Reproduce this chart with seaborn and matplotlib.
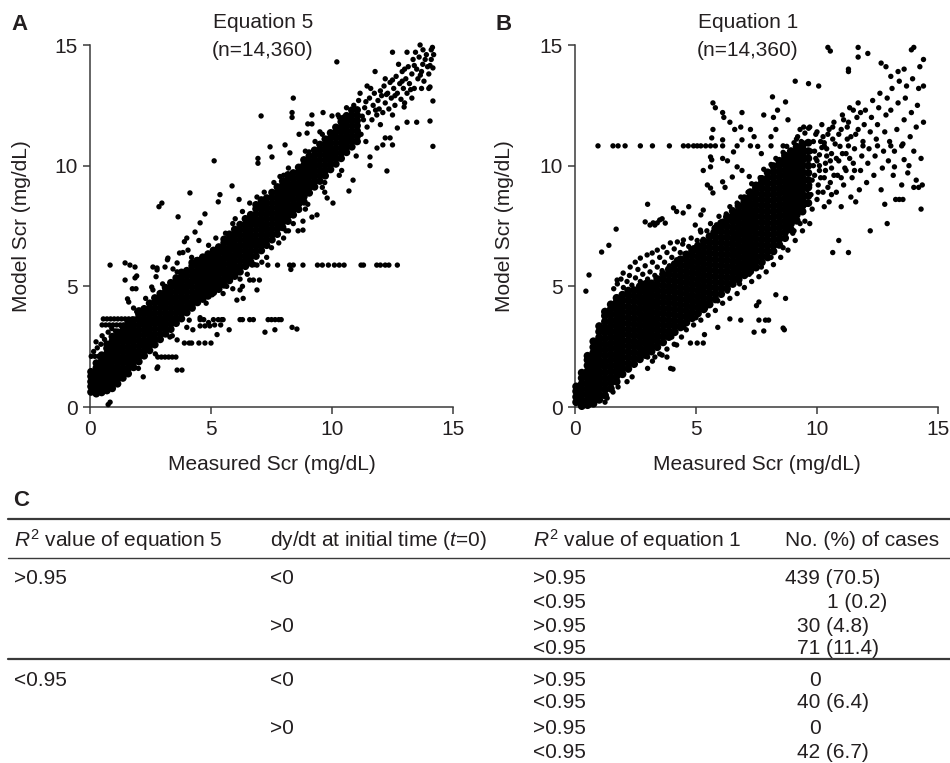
import matplotlib
matplotlib.use("Agg")
import matplotlib.pyplot as plt
import seaborn as sns
import pandas as pd
from matplotlib.lines import Line2D

# ---------------------------------------------------------------- data
# Equation 5 panel: dense band as (measured, [model values]) columns
eq5_band = [
    (0.04, [0.62, 0.85, 1.05, 1.27, 1.46]),
    (0.26, [0.55, 0.76, 0.97, 1.18, 1.4, 1.62, 1.82]),
    (0.48, [0.6, 0.83, 1.05, 1.26, 1.49, 1.7, 1.92, 2.15]),
    (0.7, [0.68, 0.9, 1.13, 1.34, 1.56, 1.78, 2.0, 2.21, 2.43, 2.6]),
    (0.92, [0.77, 0.99, 1.21, 1.43, 1.64, 1.87, 2.08, 2.3, 2.52, 2.73, 2.92]),
    (1.14, [0.96, 1.16, 1.38, 1.6, 1.82, 2.03, 2.25, 2.47, 2.69, 2.9, 3.1]),
    (1.36, [1.2, 1.42, 1.63, 1.85, 2.07, 2.29, 2.5, 2.72, 2.94, 3.15, 3.34]),
    (1.58, [1.38, 1.6, 1.82, 2.03, 2.25, 2.47, 2.69, 2.9, 3.12, 3.34, 3.52]),
    (1.8, [1.64, 1.86, 2.08, 2.29, 2.51, 2.73, 2.95, 3.16, 3.38, 3.6]),
    (2.02, [1.88, 2.1, 2.31, 2.53, 2.75, 2.97, 3.18, 3.4, 3.62, 3.84, 3.98]),
    (2.24, [2.12, 2.34, 2.56, 2.77, 2.99, 3.2, 3.42, 3.64, 3.86, 4.07]),
    (2.46, [2.34, 2.55, 2.77, 2.99, 3.21, 3.43, 3.64, 3.86, 4.08, 4.3]),
    (2.68, [2.58, 2.8, 3.01, 3.23, 3.45, 3.66, 3.88, 4.1, 4.32, 4.52]),
    (2.9, [2.8, 3.02, 3.24, 3.46, 3.67, 3.89, 4.11, 4.33, 4.54, 4.7]),
    (3.12, [3.03, 3.25, 3.47, 3.68, 3.9, 4.12, 4.34, 4.55, 4.77, 4.95]),
    (3.34, [3.22, 3.44, 3.66, 3.88, 4.1, 4.31, 4.53, 4.75, 4.97, 5.15]),
    (3.56, [3.47, 3.69, 3.91, 4.12, 4.34, 4.56, 4.78, 4.99, 5.21, 5.35]),
    (3.78, [3.66, 3.88, 4.1, 4.32, 4.53, 4.75, 4.97, 5.19, 5.4, 5.58]),
    (4.0, [3.91, 4.13, 4.35, 4.56, 4.78, 5.0, 5.22, 5.44, 5.65]),
    (4.22, [4.1, 4.32, 4.54, 4.75, 4.97, 5.19, 5.41, 5.62, 5.84, 5.98]),
    (4.44, [4.33, 4.55, 4.77, 4.98, 5.2, 5.42, 5.64, 5.85, 6.07]),
    (4.66, [4.47, 4.69, 4.9, 5.12, 5.34, 5.56, 5.78, 5.99, 6.21]),
    (4.88, [4.6, 4.82, 5.04, 5.26, 5.47, 5.69, 5.91, 6.13, 6.34]),
    (5.1, [4.75, 4.97, 5.19, 5.4, 5.62, 5.84, 6.06, 6.27, 6.49]),
    (5.32, [4.88, 5.1, 5.32, 5.54, 5.75, 5.97, 6.19, 6.41, 6.63]),
    (5.54, [5.06, 5.28, 5.5, 5.71, 5.93, 6.15, 6.37, 6.58, 6.8, 6.95]),
    (5.76, [5.24, 5.46, 5.68, 5.9, 6.11, 6.33, 6.55, 6.77, 6.98, 7.16]),
    (5.98, [5.42, 5.64, 5.85, 6.07, 6.29, 6.51, 6.72, 6.94, 7.16, 7.36]),
    (6.2, [5.6, 5.82, 6.04, 6.25, 6.47, 6.69, 6.91, 7.12, 7.34, 7.56]),
    (6.42, [5.83, 6.05, 6.26, 6.48, 6.7, 6.92, 7.13, 7.35, 7.57, 7.8]),
    (6.64, [6.01, 6.23, 6.45, 6.67, 6.88, 7.1, 7.32, 7.54, 7.75, 7.97]),
    (6.86, [6.25, 6.47, 6.69, 6.9, 7.12, 7.34, 7.56, 7.77, 7.99, 8.21, 8.38]),
    (7.08, [6.48, 6.7, 6.91, 7.13, 7.35, 7.57, 7.78, 8.0, 8.22, 8.44, 8.58]),
    (7.3, [6.7, 6.92, 7.13, 7.35, 7.57, 7.79, 8.0, 8.22, 8.44, 8.66]),
    (7.52, [6.93, 7.15, 7.37, 7.58, 7.8, 8.02, 8.24, 8.45, 8.67, 8.89]),
    (7.74, [7.16, 7.38, 7.6, 7.81, 8.03, 8.25, 8.47, 8.68, 8.9, 9.12]),
    (7.96, [7.44, 7.66, 7.88, 8.09, 8.31, 8.53, 8.75, 8.96, 9.18, 9.36]),
    (8.18, [7.7, 7.92, 8.14, 8.35, 8.57, 8.79, 9.01, 9.22, 9.44, 9.62]),
    (8.4, [7.96, 8.18, 8.39, 8.61, 8.83, 9.05, 9.26, 9.48, 9.7]),
    (8.62, [8.19, 8.41, 8.63, 8.85, 9.06, 9.28, 9.5, 9.72, 9.93]),
    (8.84, [8.5, 8.72, 8.93, 9.15, 9.37, 9.59, 9.8, 10.02, 10.24]),
    (9.06, [8.87, 9.09, 9.31, 9.53, 9.74, 9.96, 10.18, 10.4]),
    (9.28, [9.12, 9.34, 9.56, 9.77, 9.99, 10.21, 10.43, 10.64]),
    (9.5, [9.36, 9.58, 9.79, 10.01, 10.23, 10.45, 10.66, 10.88]),
    (9.72, [9.58, 9.8, 10.02, 10.24, 10.45, 10.67, 10.89, 11.1]),
    (9.94, [9.84, 10.06, 10.28, 10.49, 10.71, 10.93, 11.15, 11.36]),
    (10.16, [10.07, 10.29, 10.51, 10.72, 10.94, 11.16, 11.38, 11.59]),
    (10.38, [10.3, 10.52, 10.73, 10.95, 11.17, 11.39, 11.6, 11.82]),
    (10.6, [10.55, 10.77, 10.98, 11.2, 11.42, 11.64, 11.85, 12.07]),
    (10.82, [10.78, 11.0, 11.22, 11.43, 11.65, 11.87, 12.09, 12.3]),
    (11.04, [11.0, 11.22, 11.44, 11.66, 11.87, 12.09, 12.31]),
]

# Equation 5 panel: thinner cloud at the top of the range
eq5_tail = [
    (11.2, 11.3), (11.3, 11.9), (11.35, 12.4), (11.45, 11.6), (11.5, 12.2),
    (11.55, 12.8), (11.65, 11.9), (11.7, 12.5), (11.75, 13.0), (11.85, 12.1),
    (11.9, 12.7), (11.95, 12.35), (12.05, 12.9), (12.1, 12.2), (12.15, 13.3),
    (12.2, 12.6), (12.3, 13.0), (12.35, 12.35), (12.4, 13.45), (12.45, 12.8),
    (12.55, 13.2), (12.6, 12.5), (12.65, 13.7), (12.7, 13.0), (12.8, 13.4),
    (12.85, 12.75), (12.9, 13.9), (12.95, 13.2), (13.05, 13.6), (13.1, 13.0),
    (13.15, 14.1), (13.2, 13.4), (13.3, 13.8), (13.35, 14.4), (13.4, 13.2),
    (13.5, 14.0), (13.55, 13.6), (13.6, 14.5), (13.7, 13.9), (13.75, 14.2),
    (13.8, 13.5), (13.9, 14.6), (13.95, 14.1), (14.0, 13.8), (14.1, 14.4),
    (14.15, 14.9), (14.2, 14.6), (13.45, 14.7), (12.75, 14.2), (12.2, 13.6),
    (11.6, 13.2), (11.1, 12.7), (10.9, 12.5), (11.4, 11.0), (12.0, 11.7),
    (12.5, 12.1), (13.0, 12.6), (13.3, 12.8), (14.0, 13.2),
    (11.25, 12.05), (11.4, 12.65), (11.8, 12.3), (12.0, 13.1), (12.25, 12.95),
    (12.5, 13.55), (12.6, 12.9), (12.9, 13.5), (13.0, 14.0), (13.25, 13.15),
    (13.4, 14.15), (13.65, 13.75), (13.85, 14.4), (14.05, 14.15),
]

# Equation 5 panel: points above the band
eq5_above = [
    (10.2, 14.3), (8.4, 12.8), (8.35, 12.2), (8.35, 12.0), (7.07, 12.06),
    (9.17, 12.1), (9.63, 12.2), (5.13, 10.2), (4.13, 8.87), (2.97, 8.45),
    (2.85, 8.3), (3.64, 7.88), (5.37, 8.8), (5.3, 8.5), (5.87, 9.16),
    (4.75, 8.0), (4.55, 7.63), (4.34, 7.25), (4.0, 7.0), (6.16, 8.6),
    (6.94, 10.3), (6.94, 10.1), (7.44, 10.78), (8.06, 10.86), (7.52, 10.36),
    (8.26, 10.53), (9.05, 10.57), (8.64, 11.3), (8.97, 11.35), (9.0, 11.73),
    (9.17, 11.73), (9.5, 11.4), (10.0, 12.06), (10.25, 12.1), (10.45, 12.0),
    (10.6, 12.4), (11.16, 13.0), (11.45, 13.3), (11.78, 13.9), (12.5, 14.7),
    (13.1, 14.7), (13.64, 15.0), (14.1, 14.8), (13.76, 14.8),
    (0.83, 5.88), (1.45, 5.97), (1.65, 5.88), (1.86, 5.8), (1.93, 5.43),
    (1.86, 5.35), (1.45, 5.26), (1.75, 4.9), (1.9, 4.9), (1.6, 4.35),
    (1.55, 4.48), (1.8, 4.1), (1.93, 3.95), (2.6, 5.8), (2.77, 5.68),
    (2.73, 5.4), (3.2, 6.1), (3.1, 5.8), (3.22, 6.17), (2.55, 4.97),
    (2.6, 4.85), (3.7, 6.38), (3.6, 5.97), (3.43, 5.72), (4.05, 6.5),
    (3.9, 6.85), (4.5, 6.9), (4.4, 6.1), (3.84, 6.4), (2.77, 5.76),
    (0.15, 2.3), (0.3, 2.45), (0.45, 2.6), (0.25, 2.7), (0.6, 2.8),
    (0.5, 2.95), (0.75, 3.1), (0.9, 3.25), (1.05, 3.15),
    (2.3, 4.5), (3.0, 5.1), (3.6, 5.6), (4.2, 6.2), (4.9, 6.7), (5.6, 7.2),
    (6.3, 8.1), (6.9, 8.7), (7.6, 9.3), (8.2, 9.9), (8.9, 10.6), (9.6, 11.3),
    (10.3, 12.0), (5.2, 7.0), (6.0, 7.8), (7.2, 8.9), (8.0, 9.6),
    (6.6, 8.45), (7.85, 9.55), (9.3, 11.0), (5.9, 7.6),
]

# Equation 5 panel: points below the band
eq5_below = [
    (14.17, 10.8), (14.05, 11.85), (13.5, 11.8), (13.1, 11.8), (14.17, 12.68),
    (14.17, 14.05), (13.7, 13.2), (14.05, 13.26), (12.98, 12.43), (12.7, 11.56),
    (12.2, 11.15), (12.4, 11.15), (12.27, 9.78), (11.57, 10.0), (11.57, 10.36),
    (11.86, 10.73), (12.1, 10.86), (12.5, 10.86), (10.7, 8.95), (10.87, 9.4),
    (10.04, 8.45), (9.8, 8.66), (9.7, 8.9), (9.17, 7.87), (9.38, 7.96),
    (8.8, 7.33), (8.6, 7.3), (8.1, 7.3), (8.8, 7.7),
    (2.77, 1.6), (3.6, 1.53), (3.8, 1.53), (2.8, 1.66), (2.2, 1.25),
    (0.83, 0.2), (0.75, 0.1),
    (5.8, 5.26), (6.07, 4.43), (6.33, 4.5), (6.6, 5.26), (6.75, 5.26),
    (7.0, 5.26), (6.9, 4.85), (6.2, 4.85), (6.3, 5.0), (5.4, 5.1),
    (5.65, 5.0), (4.75, 4.7), (5.05, 4.65), (4.55, 3.7), (4.9, 3.5),
    (5.15, 3.4), (4.25, 4.2), (4.0, 3.3), (4.25, 3.2), (3.3, 2.9),
    (3.6, 2.78), (4.1, 2.65), (8.3, 5.7),
    (2.0, 1.6), (2.7, 2.2), (3.4, 2.95), (4.1, 3.6), (4.8, 4.3), (5.5, 4.7),
    (6.2, 5.3), (6.8, 5.9), (7.5, 6.6), (8.2, 7.3), (8.9, 8.2), (9.6, 9.1),
    (10.4, 9.8), (11.0, 10.4), (5.9, 4.9), (6.5, 5.5), (7.1, 6.0), (7.8, 6.8),
    (8.4, 7.6), (9.0, 8.4), (9.7, 9.3), (10.3, 9.6), (7.3, 6.2), (8.0, 7.0),
]

# Equation 5 panel: runs of cases that share one model value
eq5_runs = [
    (6.5, 5.88), (6.7, 5.88), (6.9, 5.88), (7.35, 5.88), (7.75, 5.88),
    (8.25, 5.88), (8.4, 5.88), (8.8, 5.88), (9.4, 5.88), (9.6, 5.88),
    (9.85, 5.88), (10.1, 5.88), (10.3, 5.88), (10.5, 5.88), (11.2, 5.88),
    (11.3, 5.88), (11.85, 5.88), (12.0, 5.88), (12.2, 5.88), (12.35, 5.88),
    (12.7, 5.88),
    (4.55, 3.62), (4.7, 3.62), (5.1, 3.62), (5.3, 3.62), (5.45, 3.62),
    (5.5, 3.62), (6.2, 3.62), (6.3, 3.62), (6.6, 3.62), (6.75, 3.62),
    (7.36, 3.62), (7.5, 3.62), (7.65, 3.62), (7.8, 3.62), (7.9, 3.62),
    (7.23, 3.1), (7.64, 3.2), (8.35, 3.3), (8.55, 3.23), (5.4, 3.4),
    (5.75, 3.2), (4.55, 3.36), (4.75, 3.36), (4.95, 3.36), (5.25, 3.0),
    (3.9, 2.65), (4.2, 2.65), (4.5, 2.65), (4.75, 2.65), (5.0, 2.65),
    (2.8, 2.07), (2.95, 2.07), (3.1, 2.07), (3.25, 2.07), (3.4, 2.07),
    (3.55, 2.07),
    (0.55, 3.65), (0.7, 3.65), (0.85, 3.65), (1.0, 3.65), (1.15, 3.65),
    (1.3, 3.65), (1.45, 3.65), (1.6, 3.65), (1.75, 3.65), (1.9, 3.65),
    (2.1, 3.65), (2.3, 3.65),
    (0.5, 3.4), (0.65, 3.4), (0.8, 3.4), (0.95, 3.4), (1.1, 3.4),
    (1.25, 3.4), (1.4, 3.4), (1.6, 3.4), (1.8, 3.4), (2.0, 3.4),
    (2.2, 3.4), (2.45, 3.4),
    (0.05, 2.1), (0.2, 2.1), (0.35, 2.1), (0.5, 2.1), (0.7, 2.1), (0.85, 2.1),
]

# Equation 1 panel: dense band as (measured, [model values]) columns
eq1_band = [
    (0.05, [0.2, 0.42, 0.65, 0.85]),
    (0.28, [0.04, 0.27, 0.5, 0.73, 0.96, 1.2, 1.42]),
    (0.52, [0.08, 0.31, 0.55, 0.78, 1.02, 1.25, 1.48, 1.72, 1.95, 2.12]),
    (0.76, [0.14, 0.38, 0.61, 0.85, 1.08, 1.31, 1.55, 1.78, 2.02, 2.25, 2.48, 2.72]),
    (1.0, [0.3, 0.53, 0.77, 1.0, 1.24, 1.47, 1.71, 1.94, 2.18, 2.41, 2.65, 2.88, 3.12, 3.35]),
    (1.24, [0.48, 0.72, 0.95, 1.19, 1.42, 1.66, 1.89, 2.13, 2.36, 2.6, 2.83, 3.07, 3.3, 3.54, 3.78, 3.95]),
    (1.48, [0.76, 1.0, 1.23, 1.47, 1.7, 1.94, 2.17, 2.41, 2.64, 2.88, 3.11, 3.35, 3.58, 3.82, 4.05, 4.25]),
    (1.72, [1.05, 1.28, 1.52, 1.75, 1.99, 2.22, 2.46, 2.69, 2.93, 3.16, 3.4, 3.63, 3.87, 4.1, 4.34, 4.52]),
    (1.96, [1.36, 1.6, 1.83, 2.07, 2.3, 2.54, 2.77, 3.01, 3.24, 3.48, 3.71, 3.95, 4.18, 4.42, 4.65]),
    (2.2, [1.58, 1.81, 2.05, 2.28, 2.52, 2.75, 2.99, 3.22, 3.46, 3.69, 3.93, 4.16, 4.4, 4.63, 4.82]),
    (2.44, [1.78, 2.02, 2.25, 2.49, 2.72, 2.96, 3.19, 3.43, 3.66, 3.9, 4.13, 4.37, 4.6, 4.84]),
    (2.68, [1.98, 2.21, 2.45, 2.68, 2.92, 3.15, 3.39, 3.62, 3.86, 4.09, 4.33, 4.56, 4.8, 5.0]),
    (2.92, [2.15, 2.38, 2.62, 2.85, 3.09, 3.32, 3.56, 3.79, 4.03, 4.26, 4.5, 4.73, 4.97, 5.1]),
    (3.16, [2.3, 2.54, 2.77, 3.01, 3.24, 3.48, 3.71, 3.95, 4.18, 4.42, 4.65, 4.89, 5.12]),
    (3.4, [2.48, 2.72, 2.95, 3.19, 3.42, 3.66, 3.89, 4.13, 4.36, 4.6, 4.83, 5.07, 5.3]),
    (3.64, [2.68, 2.92, 3.15, 3.39, 3.62, 3.86, 4.09, 4.33, 4.56, 4.8, 5.03, 5.27, 5.5]),
    (3.88, [2.9, 3.13, 3.37, 3.6, 3.84, 4.07, 4.31, 4.54, 4.78, 5.01, 5.25, 5.48, 5.7]),
    (4.12, [3.1, 3.34, 3.57, 3.81, 4.04, 4.28, 4.51, 4.75, 4.98, 5.22, 5.45, 5.69, 5.92]),
    (4.36, [3.3, 3.54, 3.77, 4.01, 4.24, 4.48, 4.71, 4.95, 5.18, 5.42, 5.65, 5.89, 6.12]),
    (4.6, [3.5, 3.74, 3.97, 4.21, 4.44, 4.68, 4.91, 5.15, 5.38, 5.62, 5.85, 6.09, 6.32]),
    (4.84, [3.68, 3.92, 4.15, 4.39, 4.62, 4.86, 5.09, 5.33, 5.56, 5.8, 6.03, 6.27, 6.5]),
    (5.08, [3.88, 4.12, 4.35, 4.59, 4.82, 5.06, 5.29, 5.53, 5.76, 6.0, 6.23, 6.47, 6.68]),
    (5.32, [4.05, 4.29, 4.52, 4.76, 4.99, 5.23, 5.46, 5.7, 5.93, 6.17, 6.4, 6.64, 6.87]),
    (5.56, [4.25, 4.49, 4.72, 4.96, 5.19, 5.43, 5.66, 5.9, 6.13, 6.37, 6.6, 6.84, 7.07]),
    (5.8, [4.46, 4.7, 4.93, 5.17, 5.4, 5.64, 5.87, 6.11, 6.34, 6.58, 6.81, 7.05, 7.28, 7.4]),
    (6.04, [4.68, 4.92, 5.15, 5.39, 5.62, 5.86, 6.09, 6.33, 6.56, 6.8, 7.03, 7.27, 7.5, 7.62]),
    (6.28, [4.9, 5.14, 5.37, 5.61, 5.84, 6.08, 6.31, 6.55, 6.78, 7.02, 7.25, 7.49, 7.72, 7.88]),
    (6.52, [5.1, 5.34, 5.57, 5.81, 6.04, 6.28, 6.51, 6.75, 6.98, 7.22, 7.45, 7.69, 7.92, 8.12]),
    (6.76, [5.28, 5.52, 5.75, 5.99, 6.22, 6.46, 6.69, 6.93, 7.16, 7.4, 7.63, 7.87, 8.1, 8.34]),
    (7.0, [5.46, 5.7, 5.93, 6.17, 6.4, 6.64, 6.87, 7.11, 7.34, 7.58, 7.81, 8.05, 8.28, 8.52, 8.65]),
    (7.24, [5.62, 5.86, 6.09, 6.33, 6.56, 6.8, 7.03, 7.27, 7.5, 7.74, 7.97, 8.21, 8.44, 8.68, 8.9]),
    (7.48, [5.78, 6.02, 6.25, 6.49, 6.72, 6.96, 7.19, 7.43, 7.66, 7.9, 8.13, 8.37, 8.6, 8.84, 9.07, 9.18]),
    (7.72, [6.0, 6.24, 6.47, 6.71, 6.94, 7.18, 7.41, 7.65, 7.88, 8.12, 8.35, 8.59, 8.82, 9.06, 9.29, 9.45]),
    (7.96, [6.2, 6.44, 6.67, 6.91, 7.14, 7.38, 7.61, 7.85, 8.08, 8.32, 8.55, 8.79, 9.02, 9.26, 9.49, 9.72]),
    (8.2, [6.45, 6.69, 6.92, 7.16, 7.39, 7.63, 7.86, 8.1, 8.33, 8.57, 8.8, 9.04, 9.27, 9.51, 9.74, 9.98]),
    (8.44, [6.72, 6.96, 7.19, 7.43, 7.66, 7.9, 8.13, 8.37, 8.6, 8.84, 9.07, 9.31, 9.54, 9.78, 10.01, 10.2]),
    (8.68, [7.0, 7.24, 7.47, 7.71, 7.94, 8.18, 8.41, 8.65, 8.88, 9.12, 9.35, 9.59, 9.82, 10.06, 10.29, 10.42]),
    (8.92, [7.35, 7.59, 7.82, 8.06, 8.29, 8.53, 8.76, 9.0, 9.23, 9.47, 9.7, 9.94, 10.17, 10.41, 10.6]),
    (9.16, [7.72, 7.96, 8.19, 8.43, 8.66, 8.9, 9.13, 9.37, 9.6, 9.84, 10.07, 10.31, 10.54, 10.78]),
    (9.4, [8.1, 8.34, 8.57, 8.81, 9.04, 9.28, 9.51, 9.75, 9.98, 10.22, 10.45, 10.69, 10.9]),
    (9.64, [8.45, 8.75, 9.1, 9.4, 9.7, 10.0, 10.3, 10.6, 10.95]),
]

# Equation 1 panel: looser points around the band
eq1_halo = [
    (1.6, 4.9), (1.75, 5.1), (1.9, 5.3), (2.0, 4.95), (2.15, 5.2), (2.25, 5.45),
    (2.35, 5.05), (2.5, 5.35), (2.6, 5.7), (2.7, 5.2), (2.8, 5.5), (2.9, 5.85),
    (3.0, 5.3), (3.1, 5.6), (3.2, 6.0), (3.3, 5.45), (3.4, 5.8), (3.5, 6.2),
    (3.6, 5.65), (3.7, 6.0), (3.8, 6.4), (3.9, 5.85), (4.0, 6.2), (4.1, 6.55),
    (4.2, 6.1), (4.35, 6.4), (4.45, 6.75), (4.55, 6.35), (4.7, 6.65), (4.8, 7.0),
    (4.9, 6.6), (5.05, 6.9), (5.2, 7.25), (5.3, 6.95), (5.45, 7.3), (5.6, 7.6),
    (5.7, 7.25), (5.85, 7.55), (5.95, 7.9), (6.1, 7.7), (6.25, 8.0), (6.4, 8.3),
    (6.55, 8.05), (6.7, 8.45), (6.85, 8.7), (7.0, 8.6), (7.15, 8.9), (7.3, 9.25),
    (7.5, 9.2), (7.65, 9.5), (7.8, 9.85), (7.95, 9.7), (8.1, 10.05), (8.3, 10.3),
    (8.45, 10.2), (8.6, 10.55), (8.75, 10.8), (8.9, 10.6), (9.05, 10.95),
    (9.2, 11.2), (9.35, 11.0), (9.5, 11.35), (9.65, 11.55),
    (1.74, 5.26), (1.99, 5.55), (2.28, 5.8), (2.49, 6.0), (2.7, 6.17),
    (2.98, 6.3), (3.19, 6.38), (3.4, 6.5), (3.65, 6.63), (3.94, 6.8),
    (4.23, 6.84), (4.48, 6.92), (3.1, 7.54), (3.3, 7.54), (3.5, 7.75),
    (3.73, 7.62), (4.97, 7.54), (5.18, 7.33),
    (3.2, 1.9), (3.5, 2.2), (3.8, 2.4), (4.1, 2.6), (4.4, 2.9), (4.6, 3.2),
    (4.9, 3.4), (5.2, 3.6), (5.5, 3.8), (5.8, 4.0), (6.1, 4.3), (6.4, 4.5),
    (6.7, 4.7), (7.0, 4.95), (7.3, 5.2), (7.6, 5.4), (7.9, 5.6), (8.2, 5.9),
    (8.5, 6.2), (8.8, 6.5), (9.1, 6.9), (9.4, 7.3), (9.7, 7.6),
    (4.0, 2.9), (4.5, 3.3), (5.0, 3.7), (5.4, 4.1), (5.9, 4.4), (6.3, 4.8),
    (6.8, 5.1), (7.2, 5.5), (7.7, 5.8), (8.1, 6.2), (8.6, 6.6), (9.0, 7.2),
    (9.5, 7.7),
]

# Equation 1 panel: thinner cloud above 9.5 mg/dL
eq1_tail = [
    (9.55, 8.4), (9.6, 9.0), (9.6, 9.7), (9.65, 10.3), (9.7, 11.6), (9.75, 8.8),
    (9.8, 9.4), (9.85, 10.0), (9.9, 10.6), (9.95, 11.3), (10.0, 8.6), (10.05, 9.2),
    (10.1, 9.8), (10.1, 10.45), (10.15, 11.0), (10.2, 11.7), (10.25, 8.9),
    (10.3, 9.5), (10.35, 10.1), (10.4, 10.7), (10.45, 11.3), (10.5, 8.5),
    (10.55, 9.3), (10.6, 9.9), (10.6, 10.5), (10.65, 11.1), (10.7, 11.8),
    (9.58, 10.0), (10.0, 10.2), (10.3, 10.95),
    (9.7, 9.2), (9.75, 10.6), (9.8, 8.2), (9.85, 11.0), (9.9, 9.6), (9.95, 10.3),
    (10.0, 11.4), (10.05, 8.9), (10.1, 10.0), (10.15, 9.5), (10.2, 10.75),
    (10.25, 11.2), (10.3, 8.3), (10.35, 9.8), (10.4, 10.4), (10.45, 9.1),
    (10.5, 11.5), (10.55, 10.2), (10.6, 8.8), (10.65, 11.6), (10.7, 9.6),
    (10.75, 10.9), (10.8, 10.3), (10.9, 11.3), (11.0, 9.5), (11.05, 10.5),
    (11.1, 11.9), (11.2, 9.8), (11.25, 11.6), (11.35, 10.3), (11.4, 11.2),
    (11.5, 12.3), (11.55, 9.8), (11.7, 11.5), (11.8, 12.2), (9.45, 11.6),
    (9.3, 11.5), (9.15, 11.1), (9.05, 7.3), (9.3, 7.6),
    (10.8, 8.9), (10.85, 9.6), (10.9, 10.2), (10.95, 10.8), (11.0, 11.5),
    (11.05, 12.1), (11.1, 9.2), (11.15, 9.9), (11.2, 10.5), (11.25, 11.1),
    (11.3, 11.8), (11.35, 12.4), (11.4, 8.7), (11.45, 9.5), (11.5, 10.1),
    (11.55, 10.7), (11.6, 11.3), (11.65, 12.0), (11.7, 12.6), (11.75, 9.0),
    (11.8, 9.8), (11.85, 10.4), (11.9, 11.0), (11.95, 11.7), (12.0, 12.3),
    (11.0, 8.3), (11.6, 8.5),
    (12.05, 9.3), (12.1, 10.1), (12.15, 10.7), (12.2, 11.4), (12.25, 12.0),
    (12.3, 12.7), (12.35, 9.6), (12.4, 10.4), (12.45, 11.1), (12.5, 11.7),
    (12.55, 12.4), (12.6, 13.0), (12.65, 9.0), (12.7, 9.9), (12.75, 10.6),
    (12.8, 11.4), (12.85, 12.1), (12.9, 12.8), (12.95, 10.2), (13.0, 11.0),
    (13.05, 12.3), (13.1, 13.2), (13.15, 9.6), (13.2, 10.6), (13.3, 11.5),
    (13.35, 12.6), (13.4, 13.5), (13.5, 9.2), (13.55, 10.9), (13.6, 11.9),
    (13.65, 12.8), (13.7, 13.3), (13.8, 10.0), (13.85, 11.2), (13.9, 12.2),
    (13.95, 13.6), (14.0, 10.6), (14.1, 11.6), (14.15, 12.5), (14.2, 13.2),
    (14.3, 10.3), (14.35, 9.2), (14.25, 14.1),
]

# Equation 1 panel: scattered points away from the band
eq1_scatter = [
    (3.0, 8.4), (2.9, 7.67), (3.23, 7.63), (3.4, 7.63), (3.6, 7.8), (4.07, 8.25),
    (4.2, 8.1), (4.47, 8.04), (4.7, 8.3), (1.7, 7.37), (1.4, 6.7), (1.1, 6.42),
    (0.58, 5.47), (0.45, 4.8),
    (5.7, 12.6), (5.8, 12.4), (6.1, 12.2), (6.15, 12.0), (6.9, 12.2), (6.4, 11.8),
    (6.6, 11.5), (6.85, 11.6), (5.7, 11.5), (5.65, 11.15), (6.1, 11.07),
    (5.6, 10.36), (5.65, 10.24), (6.1, 10.3), (6.3, 10.2), (6.7, 9.95), (6.9, 9.8),
    (7.2, 9.55), (5.47, 9.2), (5.6, 9.07), (5.7, 8.87), (6.1, 9.33), (6.2, 9.1),
    (6.5, 9.53), (5.3, 8.16), (5.2, 7.96), (7.4, 11.2), (7.55, 10.8), (7.7, 10.5),
    (8.1, 11.2), (8.3, 11.5), (8.2, 12.0), (8.37, 12.3), (8.7, 12.64),
    (8.16, 12.85), (7.8, 12.1), (8.8, 11.9), (7.25, 11.5), (6.9, 11.07),
    (5.3, 9.8), (5.6, 9.95), (6.55, 10.57),
    (9.1, 13.5), (9.65, 13.4), (10.07, 13.3), (10.45, 14.9), (10.55, 14.75),
    (11.7, 14.9), (11.7, 14.5), (12.1, 14.65), (11.3, 14.0), (11.3, 13.9),
    (12.65, 14.25), (12.85, 14.1), (13.05, 13.7), (13.35, 13.9), (13.6, 14.0),
    (13.9, 14.8), (14.0, 14.9), (14.4, 14.4), (14.4, 13.3), (14.4, 11.8),
    (14.3, 8.2), (14.0, 9.1), (14.2, 9.1), (14.1, 9.4), (12.9, 7.6), (12.2, 7.3),
    (11.3, 6.4), (10.9, 6.9), (10.65, 6.4), (13.55, 8.6), (13.4, 8.6),
    (13.25, 8.6), (12.8, 8.4), (13.75, 9.7), (13.6, 10.25), (13.2, 9.95),
    (8.7, 4.5), (8.3, 4.65), (7.6, 4.35), (7.5, 4.2), (7.87, 3.6), (7.6, 3.6),
    (8.0, 3.6), (7.4, 3.1), (7.8, 3.15), (8.6, 3.27), (8.65, 3.2), (6.85, 3.6),
    (6.4, 3.65), (5.9, 3.3), (5.35, 3.0), (4.77, 2.65), (5.05, 2.65),
    (5.3, 2.65), (4.2, 2.57), (3.6, 2.15), (3.8, 2.07), (3.3, 2.07),
    (3.0, 2.07), (3.95, 1.6), (4.05, 1.57), (3.0, 1.6), (2.36, 1.25),
    (2.15, 1.05), (1.78, 0.83), (1.57, 0.62), (1.33, 0.37), (1.24, 0.2),
]

# Equation 1 panel: run of cases sharing one model value
eq1_run = [
    (0.95, 10.82), (1.57, 10.82), (1.78, 10.82), (2.07, 10.82), (2.7, 10.82),
    (3.2, 10.82), (3.9, 10.82), (4.48, 10.82), (4.68, 10.82), (4.9, 10.82),
    (5.05, 10.82), (5.2, 10.82), (5.4, 10.82), (5.6, 10.82), (5.8, 10.82),
    (6.1, 10.82), (6.7, 10.82), (7.25, 10.82), (8.1, 10.82), (8.6, 10.82),
    (9.45, 10.82), (10.3, 10.82), (11.3, 10.82), (11.9, 10.82), (12.5, 10.82),
    (13.05, 10.82), (13.5, 10.82),
]

panel_titles = ["Equation 5", "Equation 1"]
panel_n = ["(n=14,360)", "(n=14,360)"]
panel_letters = ["A", "B"]
axis_ticks = [0, 5, 10, 15]

# Table C
table_header = [r"$R^2$ value of equation 5", r"dy/dt at initial time ($t$=0)",
                r"$R^2$ value of equation 1", "No. (%) of cases"]
eq5_r2 = [">0.95", "", "", "", "<0.95", "", "", ""]
slope_t0 = ["<0", "", ">0", "", "<0", "", ">0", ""]
eq1_r2 = [">0.95", "<0.95", ">0.95", "<0.95", ">0.95", "<0.95", ">0.95", "<0.95"]
case_counts = ["439 (70.5)", "1 (0.2)", "30 (4.8)", "71 (11.4)",
               "0", "40 (6.4)", "0", "42 (6.7)"]


# ---------------------------------------------------------------- helpers
def columns_to_xy(columns):
    xs, ys = [], []
    for x, col in columns:
        for y in col:
            xs.append(x)
            ys.append(y)
    return xs, ys


def pairs_to_xy(*groups):
    xs, ys = [], []
    for group in groups:
        for x, y in group:
            xs.append(x)
            ys.append(y)
    return xs, ys


def frame(xs, ys, panel, layer):
    return pd.DataFrame({"measured": xs, "model": ys,
                         "panel": panel, "layer": layer})


points = pd.concat([
    frame(*columns_to_xy(eq5_band), "Equation 5", "core"),
    frame(*pairs_to_xy(eq5_tail, eq5_above, eq5_below, eq5_runs),
          "Equation 5", "spread"),
    frame(*columns_to_xy(eq1_band), "Equation 1", "core"),
    frame(*pairs_to_xy(eq1_halo, eq1_tail, eq1_scatter, eq1_run),
          "Equation 1", "spread"),
], ignore_index=True)

# ---------------------------------------------------------------- style
sns.set_theme(style="ticks")
plt.rcParams["font.family"] = ["Liberation Sans", "DejaVu Sans"]
plt.rcParams["mathtext.fontset"] = "custom"
plt.rcParams["mathtext.rm"] = "Liberation Sans"
plt.rcParams["mathtext.it"] = "Liberation Sans:italic"
TXT = "#231f20"
AXC = "#3a3a3a"
FS = 15

W, H = 950, 763
fig = plt.figure(figsize=(W / 100, H / 100), dpi=100)


def fx(px):
    return px / W


def fy(py):
    return 1 - py / H


ax_left = [90, 575]
ax_w, top_px, bot_px = 363, 45, 407
core_size = [30, 33]   # overlapping markers in the crowded band

for i, panel in enumerate(panel_titles):
    l = ax_left[i]
    ax = fig.add_axes([fx(l), fy(bot_px), ax_w / W, (bot_px - top_px) / H])
    sub = points[points["panel"] == panel]
    core = sub[sub["layer"] == "core"]
    spread = sub[sub["layer"] == "spread"]
    sns.scatterplot(data=core, x="measured", y="model", ax=ax,
                    s=core_size[i], color="black", edgecolor="none",
                    linewidth=0, clip_on=False, legend=False)
    sns.scatterplot(data=spread, x="measured", y="model", ax=ax, s=15,
                    color="black", edgecolor="none", linewidth=0,
                    clip_on=False, legend=False)
    ax.set_xlim(0, 15)
    ax.set_ylim(0, 15)
    ax.set_xticks(axis_ticks)
    ax.set_yticks(axis_ticks)
    sns.despine(ax=ax)
    for s in ("left", "bottom"):
        ax.spines[s].set_color(AXC)
        ax.spines[s].set_linewidth(1.1)
        ax.spines[s].set_zorder(0.5)
    ax.tick_params(direction="out", length=5, width=1.1, color=AXC,
                   labelsize=FS, labelcolor=TXT, pad=4)
    ax.set_xlabel("Measured Scr (mg/dL)", fontsize=FS, color=TXT)
    ax.set_ylabel("Model Scr (mg/dL)", fontsize=FS, color=TXT)
    ax.xaxis.set_label_coords(0.5, (bot_px - 464) / (bot_px - top_px))
    ax.xaxis.label.set_verticalalignment("center")
    ylab_x = [22, 505][i]
    ax.yaxis.set_label_coords((ylab_x - l) / ax_w, 0.5)
    ax.yaxis.label.set_verticalalignment("center")
    cx = [263, 748][i]
    fig.text(fx(cx), fy(23), panel, ha="center", va="center",
             fontsize=FS, color=TXT)
    fig.text(fx(cx), fy(50), panel_n[i], ha="center", va="center",
             fontsize=FS, color=TXT)
    fig.text(fx([19, 504][i]), fy(24), panel_letters[i], ha="center",
             va="center", fontsize=16, fontweight="bold", color=TXT)

# ---------------------------------------------------------------- table C
fig.text(fx(21), fy(500), "C", ha="center", va="center", fontsize=16,
         fontweight="bold", color=TXT)

for ypx, lw in ((519, 1.6), (558, 1.0), (659, 1.6)):
    fig.add_artist(Line2D([fx(8), fx(950)], [fy(ypx), fy(ypx)],
                          color=AXC, linewidth=lw))

col_x = [14, 270, 533, 785]
for cx, label in zip(col_x, table_header):
    fig.text(fx(cx), fy(540), label, ha="left", va="center",
             fontsize=FS, color=TXT)

row_y = [579, 603, 626, 649, 680, 703, 728, 752]
count_x = [785, 827, 797, 797, 809, 797, 809, 797]
for r, ypx in enumerate(row_y):
    for cx, col in zip(col_x[:3], (eq5_r2, slope_t0, eq1_r2)):
        if col[r]:
            fig.text(fx(cx), fy(ypx), col[r], ha="left", va="center",
                     fontsize=FS, color=TXT)
    fig.text(fx(count_x[r]), fy(ypx), case_counts[r], ha="left",
             va="center", fontsize=FS, color=TXT)

fig.savefig("out.png", dpi=100)
